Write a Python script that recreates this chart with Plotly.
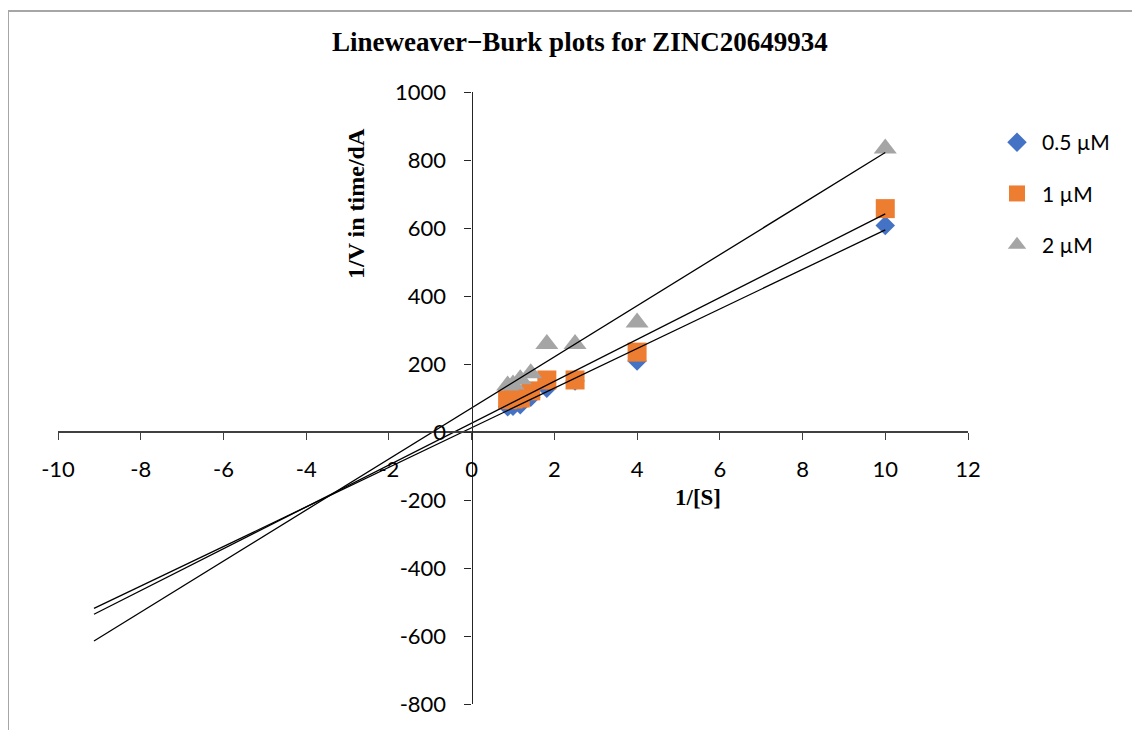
import numpy as np
import plotly.graph_objects as go

# ---- data ----
inv_s = [10, 4, 2.5, 1.818, 1.429, 1.176, 1.0, 0.870]
series_names = ["0.5 µM", "1 µM", "2 µM"]
inv_v_05 = [607, 209, 150, 129, 102, 80, 76, 74]
inv_v_1 = [657, 235, 153, 153, 121, 100, 97, 95]
inv_v_2 = [834, 322, 259, 259, 173, 155, 140, 137]
x_ticks = [-10, -8, -6, -4, -2, 0, 2, 4, 6, 8, 10, 12]
y_ticks = [-800, -600, -400, -200, 0, 200, 400, 600, 800, 1000]

# ---- style ----
colors = ["#4472C4", "#ED7D31", "#A5A5A5"]
symbols = ["diamond", "square", "triangle-up"]
sizes = [15, 19, 20]
backward_forecast = 10

W, H = 1140, 730
OFF = 8  # page body margin in the browser
L, T = 58 - OFF, 92 - OFF
PW, PH = 910, 612
R, B = W - L - PW, H - T - PH


def px(xp):
    return (xp - OFF - L) / PW


def py(yp):
    return (T + PH - (yp - OFF)) / PH


fig = go.Figure()
all_y = [inv_v_05, inv_v_1, inv_v_2]

for i, (name, ys) in enumerate(zip(series_names, all_y)):
    fig.add_trace(go.Scatter(
        x=inv_s, y=ys, mode="markers", name=name,
        legendgroup=name,
        marker=dict(symbol=symbols[i], color=colors[i], size=sizes[i], line=dict(width=0)),
    ))

# linear trendlines (least squares), with backward forecast like Excel
for i, ys in enumerate(all_y):
    slope, intercept = np.polyfit(inv_s, ys, 1)
    xl = np.array([min(inv_s) - backward_forecast, max(inv_s)])
    fig.add_trace(go.Scatter(
        x=xl, y=slope * xl + intercept, mode="lines", showlegend=False,
        line=dict(color="black", width=1.3), hoverinfo="skip",
    ))

tick_font = dict(family="Lato, Open Sans, sans-serif", size=22, color="#000000")
xr = [x_ticks[0], x_ticks[-1]]
yr = [y_ticks[0], y_ticks[-1]]

fig.update_layout(
    width=W, height=H,
    margin=dict(l=L, r=R, t=T, b=B),
    paper_bgcolor="white", plot_bgcolor="white",
    showlegend=True,
    legend=dict(
        x=px(992), y=py(122), xanchor="left", yanchor="top",
        font=dict(family="Lato, Open Sans, sans-serif", size=21, color="#000000"),
        tracegroupgap=21, itemsizing="trace", itemwidth=40, bgcolor="rgba(0,0,0,0)",
    ),
    xaxis=dict(
        range=xr, domain=[0, 1], anchor="free",
        position=(0 - yr[0]) / (yr[1] - yr[0]),
        tickmode="array", tickvals=x_ticks, ticktext=[str(v) for v in x_ticks],
        ticks="outside", ticklen=7, tickwidth=1.3, tickcolor="#404040",
        ticklabelstandoff=11,
        showline=True, linecolor="#404040", linewidth=2,
        showgrid=False, zeroline=False, tickfont=tick_font,
    ),
    yaxis=dict(
        range=yr, domain=[0, 1], anchor="free",
        position=(0 - xr[0]) / (xr[1] - xr[0]),
        tickmode="array", tickvals=y_ticks, ticktext=[str(v) for v in y_ticks],
        ticks="outside", ticklen=7, tickwidth=1.3, tickcolor="#262626",
        ticklabelstandoff=14,
        showline=True, linecolor="#262626", linewidth=1.3,
        showgrid=False, zeroline=False, tickfont=tick_font,
    ),
    annotations=[
        dict(text="<b>Lineweaver−Burk plots for ZINC20649934</b>", x=px(580), y=py(42),
             xref="paper", yref="paper", showarrow=False, xanchor="center", yanchor="middle",
             font=dict(family="Liberation Serif, Times New Roman, serif", size=27, color="#000000")),
        dict(text="<b>1/[S]</b>", x=px(698), y=py(497),
             xref="paper", yref="paper", showarrow=False, xanchor="center", yanchor="middle",
             font=dict(family="Liberation Serif, Times New Roman, serif", size=23, color="#000000")),
        dict(text="<b>1/V in time/dA</b>", x=px(356), y=py(204), textangle=-90,
             xref="paper", yref="paper", showarrow=False, xanchor="center", yanchor="middle",
             font=dict(family="Liberation Serif, Times New Roman, serif", size=24, color="#000000")),
    ],
    shapes=[
        dict(type="rect", xref="paper", yref="paper",
             x0=px(8), x1=px(1160), y0=py(750), y1=py(11),
             line=dict(color="#A6A6A6", width=2), fillcolor="rgba(0,0,0,0)", layer="below"),
    ],
)

fig.write_html("out.html")
